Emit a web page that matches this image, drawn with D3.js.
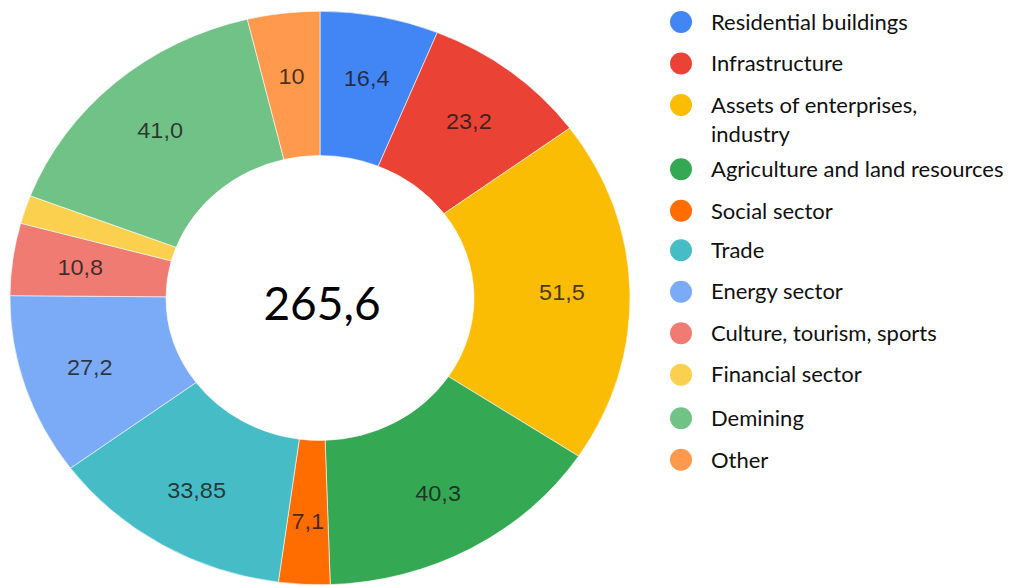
<!DOCTYPE html>
<html>
<head>
<meta charset="utf-8">
<script src="https://cdn.jsdelivr.net/npm/d3@7"></script>
<style>
  html, body { margin: 0; padding: 0; background: #fff; }
  svg { display: block; }
</style>
</head>
<body>
<svg id="chart"></svg>
<script>
/*
Chart data
 */
var categories = [
    "Residential buildings", "Infrastructure", "Assets of enterprises,|industry",
    "Agriculture and land resources", "Social sector", "Trade", "Energy sector",
    "Culture, tourism, sports", "Financial sector", "Demining", "Other"
];
var values = [16.4, 23.2, 51.5, 40.3, 7.1, 33.85, 27.2, 10.8, 4.25, 41.0, 10];
var valueText = ["16,4", "23,2", "51,5", "40,3", "7,1", "33,85", "27,2", "10,8", "", "41,0", "10"];
var colors = ["#4285f4", "#ea4335", "#fbbc04", "#34a853", "#ff6d01", "#46bdc6",
              "#7baaf7", "#f07b72", "#fcd04f", "#71c287", "#ff994d"];
var totalText = "265,6";

/*
Static constants
 */
const width = 1009;
const height = 587;
const cx = 320, cy = 298;
const outerR = 310, innerR = 154, labelR = 242;
const squash = 0.925;   // the original picture is a bit flattened vertically

var svg = d3.select("#chart")
    .attr("width", width)
    .attr("height", height);

var pie = d3.pie()
    .sort(null)
    .value(function(d) { return d; });

var arcs = pie(values);

var arc = d3.arc()
    .innerRadius(innerR)
    .outerRadius(outerR);

var labelArc = d3.arc()
    .innerRadius(labelR)
    .outerRadius(labelR);

//slices
svg.append("g")
    .attr("transform", "translate(" + cx + "," + cy + ") scale(1," + squash + ")")
    .selectAll("path")
    .data(arcs)
    .enter().append("path")
    .attr("d", arc)
    .attr("fill", function(d, i) { return colors[i]; })
    .attr("stroke", "#fff")
    .attr("stroke-width", 0.6);

//slice value labels (flattened like the slices)
svg.append("g")
    .selectAll("text")
    .data(arcs)
    .enter().append("text")
    .attr("transform", function(d) {
        var c = labelArc.centroid(d);
        return "translate(" + (cx + c[0]) + "," + (cy + c[1] * squash) + ") scale(1," + squash + ")";
    })
    .attr("dy", "0.36em")
    .attr("text-anchor", "middle")
    .style("font-family", "'Liberation Sans', Arial, sans-serif")
    .style("font-size", "23.5px")
    .style("fill", "#1a1a1a")
    .style("fill-opacity", 0.82)
    .text(function(d, i) { return valueText[i]; });

//total in the hole
svg.append("text")
    .attr("x", cx + 2)
    .attr("y", cy + 22)
    .attr("text-anchor", "middle")
    .style("font-family", "Lato, 'Open Sans', sans-serif")
    .style("font-size", "46px")
    .style("fill", "#000")
    .text(totalText);

//legend
var legendY = d3.scaleLinear().domain([0, 1]).range([22, 63.5]);
var legendRow = [0, 1, 2, 3.55, 4.55, 5.5, 6.5, 7.5, 8.5, 9.55, 10.55];

var legend = svg.append("g")
    .selectAll("g")
    .data(categories)
    .enter().append("g")
    .attr("transform", function(d, i) { return "translate(681," + legendY(legendRow[i]) + ")"; });

legend.append("circle")
    .attr("r", 11)
    .attr("fill", function(d, i) { return colors[i]; });

legend.append("text")
    .attr("x", 30)
    .style("font-family", "Lato, 'Open Sans', sans-serif")
    .style("font-size", "22px")
    .style("fill", "#111")
    .each(function(d) {
        var lines = d.split("|");
        var t = d3.select(this);
        lines.forEach(function(line, k) {
            t.append("tspan")
                .attr("x", 30)
                .attr("dy", k === 0 ? "0.35em" : "29px")
                .text(line);
        });
    });
</script>
</body>
</html>
